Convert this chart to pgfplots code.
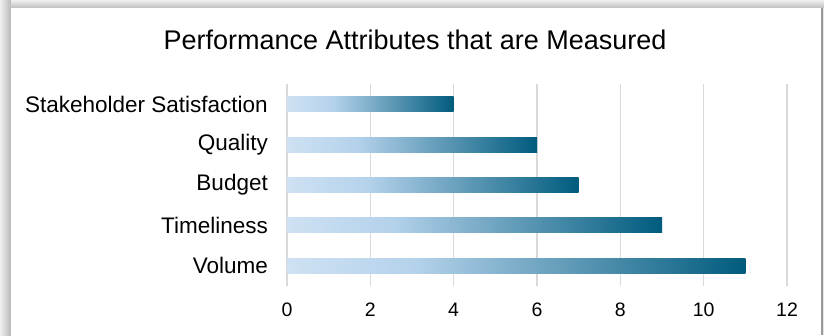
\documentclass[border=0pt]{standalone}
\usepackage{fontspec}
\setmainfont{Liberation Sans}
\usepackage{pgfplots}
\pgfplotsset{compat=1.18}
\definecolor{c1}{RGB}{207,225,243}
\definecolor{c2}{RGB}{180,210,235}
\definecolor{c3}{RGB}{0,91,125}
\definecolor{gridc}{RGB}{217,217,217}
\pgfdeclarehorizontalshading{barshade}{100bp}{color(0bp)=(c1); color(25bp)=(c1); color(39bp)=(c2); color(75bp)=(c3); color(100bp)=(c3)}
\begin{document}
\begin{tikzpicture}
\useasboundingbox (0pt,0pt) rectangle (824pt,335pt);
\fill[black!10] (0pt,0pt) rectangle (824pt,335pt);
\shade[left color=black!6, right color=black!28] (0pt,0pt) rectangle (11pt,335pt);
\shade[top color=black!6, bottom color=black!25] (11pt,327pt) rectangle (824pt,335pt);
\fill[black!40] (821pt,0pt) rectangle (822.5pt,327pt);
\fill[white] (11pt,0pt) rectangle (821pt,327pt);
\node[anchor=base, font=\fontsize{27}{32}\selectfont] at (415pt,285pt) {Performance Attributes that are Measured};
\begin{axis}[
  at={(287pt,49pt)}, anchor=south west,
  scale only axis, width=500pt, height=202pt,
  xmin=0, xmax=12, ymin=-0.5, ymax=4.5,
  xtick={0,2,...,12},
  ytick={0,1,2,3,4},
  yticklabels={Volume,Timeliness,Budget,Quality,Stakeholder Satisfaction},
  xmajorgrids, grid style={gridc, line width=1.5pt},
  axis line style={draw=none},
  major tick length=0pt,
  tick style={draw=none},
  /pgf/number format/assume math mode=true,
  xticklabel style={font=\fontsize{19.5}{23}\selectfont, anchor=north, inner sep=0pt, yshift=-16.5pt},
  yticklabel style={font=\fontsize{22.5}{27}\selectfont, anchor=east, inner sep=0pt, xshift=-19pt},
  mybar/.style={xbar, bar width=15pt, bar shift=0pt, draw=none, shading=barshade, mark=none},
]
\addplot[mybar] coordinates {(11,0)};
\addplot[mybar] coordinates {(9,1)};
\addplot[mybar] coordinates {(7,2)};
\addplot[mybar] coordinates {(6,3)};
\addplot[mybar] coordinates {(4,4)};
\end{axis}
\end{tikzpicture}
\end{document}
